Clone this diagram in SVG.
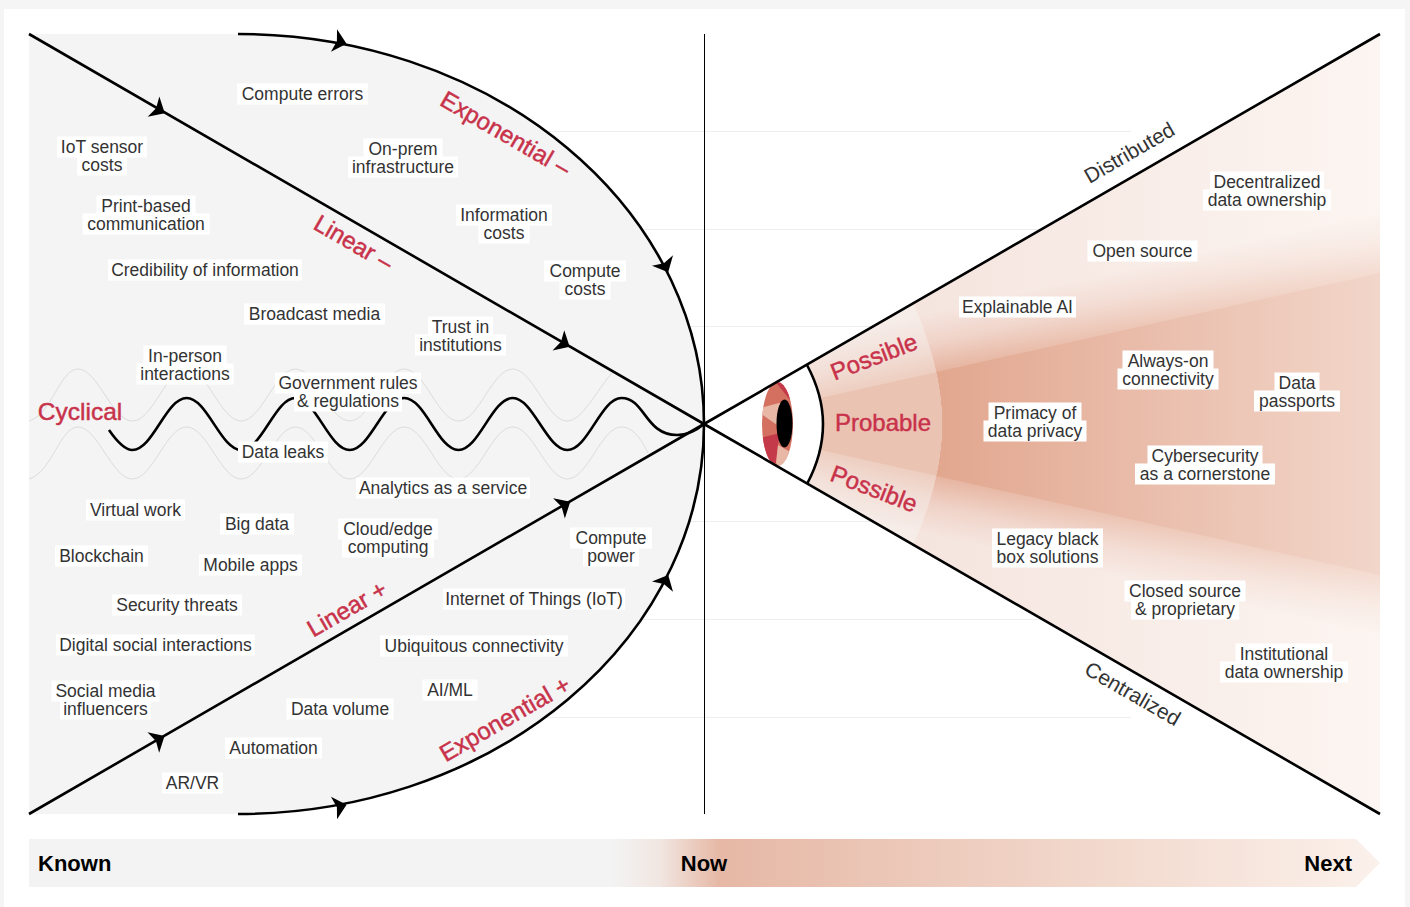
<svg xmlns="http://www.w3.org/2000/svg" width="1410" height="907" viewBox="0 0 1410 907">
<style>
text{font-family:"Liberation Sans",Arial,sans-serif}
.t text,text.t{font-size:17.5px;fill:#333;text-anchor:middle}
.t rect{fill:#fff;height:21px}
.r{font-size:24px;fill:#c8324a;text-anchor:middle;stroke:#c8324a;stroke-width:.45px}
.k{font-size:22px;fill:#000;font-weight:bold}
.s{font-size:21px;fill:#333;text-anchor:middle}
.g{fill:none;stroke:#dcdcdc;stroke-width:1}
.l{fill:none;stroke:#000;stroke-width:2.6}
.rule{stroke:#eee;stroke-width:1;fill:none}
</style>
<defs>
<linearGradient id="fanH" gradientUnits="userSpaceOnUse" x1="900" y1="0" x2="1380" y2="0"><stop offset="0" stop-color="#f5e4de"/><stop offset="1" stop-color="#fcf5f1"/></linearGradient>
<linearGradient id="wedgeH" gradientUnits="userSpaceOnUse" x1="940" y1="0" x2="1380" y2="0"><stop offset="0" stop-color="#e2a78f"/><stop offset="1" stop-color="#f2d6ca"/></linearGradient>
<linearGradient id="bar" gradientUnits="userSpaceOnUse" x1="29" y1="0" x2="1380" y2="0"><stop offset="0.431" stop-color="#f3f3f3"/><stop offset="0.467" stop-color="#f1e6e1"/><stop offset="0.511" stop-color="#e6b8a5"/><stop offset="1" stop-color="#fbf1eb"/></linearGradient>
<linearGradient id="upFade" gradientUnits="userSpaceOnUse" x1="1140" y1="326.500" x2="1127" y2="269"><stop offset="0" stop-color="#fff" stop-opacity=".8"/><stop offset=".5" stop-color="#fff" stop-opacity=".3"/><stop offset="1" stop-color="#fff" stop-opacity="0"/></linearGradient>
<linearGradient id="dnFade" gradientUnits="userSpaceOnUse" x1="1140" y1="521.500" x2="1127" y2="579"><stop offset="0" stop-color="#fff" stop-opacity=".8"/><stop offset=".5" stop-color="#fff" stop-opacity=".3"/><stop offset="1" stop-color="#fff" stop-opacity="0"/></linearGradient>
<mask id="fadeMask" maskUnits="userSpaceOnUse" x="700" y="0" width="700" height="848"><rect x="700" y="0" width="700" height="424" fill="url(#upFade)"/><rect x="700" y="424" width="700" height="424" fill="url(#dnFade)"/></mask>
<clipPath id="fan"><path d="M704 424L1380 34V814Z"/></clipPath>
<clipPath id="arcIn"><path d="M704 424L913 303C930 340 942 385 942 424C942 463 930 508 913 545Z"/></clipPath>
<clipPath id="iris" clip-path="url(#fan)"><ellipse cx="777.500" cy="424" rx="15.500" ry="42"/></clipPath>
<path id="ah" d="M13 0L0 -11.700L3 0L0 11.700Z" fill="#000"/>
</defs>
<rect width="1410" height="907" fill="#f5f5f5"/>
<rect x="4" y="9" width="1401" height="898" fill="#fff"/>
<g id="rules">
<path class="rule" d="M500 131.500H1131M500 229.500H1045M500 326.500H880M500 521.500H880M500 619.500H1045M500 717.500H1131"/>
</g>
<g id="left-field"><path d="M29 34H238A466 390 0 0 1 704 424A466 390 0 0 1 238 814H29Z" fill="#f4f4f4"/></g>
<path id="now-axis" d="M704.500 34V814" stroke="#000" stroke-width="1" fill="none"/>
<g id="future">
<path d="M704 424L1380 34V814Z" fill="url(#fanH)"/>
<path d="M704 424L1380 34V814Z" fill="url(#wedgeH)" mask="url(#fadeMask)"/>
<path d="M704 424L1380 273V575Z" fill="url(#wedgeH)"/>
<g clip-path="url(#arcIn)">
<rect x="700" y="290" width="250" height="270" fill="#f6ece8"/>
<rect x="700" y="290" width="250" height="270" fill="#ebc6b6" mask="url(#fadeMask)"/>
<path d="M704 424L960 367V481Z" fill="#eac3b3"/>
</g>
</g>
<g id="eye">
<path d="M704 424L807 365Q823 395 823 424Q823 454 807 484Z" fill="#fff"/>
<g clip-path="url(#iris)">
<rect x="755" y="375" width="45" height="100" fill="#d4705f"/>
<path d="M775 381L778 385L790 400L794 397L787 378Z" fill="#c43a4a"/>
<path d="M760 408L783 402L780 427L760 413Z" fill="#e8b7a5"/>
<path d="M760 438L780 433L778 445L776 463L758 462Z" fill="#c43a4a"/>
<path d="M778 445L792 453L782 470L776 463Z" fill="#e8b7a5"/>
</g>
<ellipse cx="784.500" cy="423.500" rx="8" ry="24" fill="#000"/>
<path class="l" d="M807 365Q823 395 823 424Q823 454 807 484"/>
</g>
<g id="waves">
<path class="g" d="M29 421C52 414 60 369 78 369C98 369 112 421 132.400 421C153 421 166 369 186.700 369C207 369 221 421 241 421C262 421 275 369 295.400 369C316 369 329 421 349.800 421C370 421 384 369 404.100 369C425 369 438 421 458.500 421C479 421 492 369 512.800 369C533 369 547 421 567.200 421C582 421 597 390 612 373"/>
<path class="g" d="M29 479C52 472 60 427 78 427C98 427 112 479 132.400 479C153 479 166 427 186.700 427C207 427 221 479 241 479C262 479 275 427 295.400 427C316 427 329 479 349.800 479C370 479 384 427 404.100 427C425 427 438 479 458.500 479C479 479 492 427 512.800 427C533 427 547 479 567.200 479C588 479 601 427 621.500 427C634 427 642 441 648 453"/>
</g>
<g id="connectors">
<path class="l" d="M29 34L704 424M29 814L704 424M704 424L1380 34M704 424L1380 814"/>
<path class="l" d="M238 34A466 390 0 0 1 704 424A466 390 0 0 1 238 814"/>
<path class="l" d="M109 430C118 443 125 450 132.400 450C153 450 166 398 186.700 398C207 398 221 450 241 450C262 450 275 398 295.400 398C316 398 329 450 349.800 450C370 450 384 398 404.100 398C425 398 438 450 458.500 450C479 450 492 398 512.800 398C533 398 547 450 567.200 450C588 450 601 398 621.500 398C645 398 645 435 677 435C688 435 697 430 704 424"/>
<use href="#ah" transform="translate(153.500 106.700) rotate(30)"/>
<use href="#ah" transform="translate(334 40.500) rotate(15)"/>
<use href="#ah" transform="translate(662.500 260.500) rotate(64)"/>
<use href="#ah" transform="translate(558.400 340.300) rotate(30)"/>
<use href="#ah" transform="translate(559 508.300) rotate(-30)"/>
<use href="#ah" transform="translate(662.500 586.700) rotate(-64)"/>
<use href="#ah" transform="translate(153.300 742.500) rotate(-30)"/>
<use href="#ah" transform="translate(334 808) rotate(-15)"/>
</g>
<g id="regime-labels">
<text class="r" x="80" y="420" style="font-size:24.500px">Cyclical</text>
<text class="r" transform="translate(505.500 134) rotate(30)" dy="8">Exponential –</text>
<text class="r" transform="translate(353.500 243) rotate(30)" dy="8">Linear –</text>
<text class="r" transform="translate(347 609) rotate(-30)" dy="8">Linear +</text>
<text class="r" transform="translate(505 719) rotate(-30)" dy="8">Exponential +</text>
<text class="r" transform="translate(874 357) rotate(-21)" dy="8">Possible</text>
<text class="r" x="883" y="431">Probable</text>
<text class="r" transform="translate(874 489) rotate(21)" dy="8">Possible</text>
<text class="s" transform="translate(1129 152) rotate(-30)" dy="8">Distributed</text>
<text class="s" transform="translate(1133 693) rotate(30)" dy="8">Centralized</text>
</g>
<g id="n-compute-errors" class="t" transform="translate(302.500 0)"><rect x="-65.500" y="83.500" width="131"/><text y="100">Compute errors</text></g>
<g id="n-iot-sensor-costs" class="t" transform="translate(102 0)"><rect x="-45" y="136.500" width="90"/><rect x="-25" y="154.500" width="50"/><text y="153">IoT sensor</text><text y="171">costs</text></g>
<g id="n-print-based" class="t" transform="translate(146 0)"><rect x="-49.500" y="195.500" width="99"/><rect x="-63.500" y="213.500" width="127"/><text y="212">Print-based</text><text y="230">communication</text></g>
<g id="n-credibility" class="t" transform="translate(205 0)"><rect x="-97" y="259.500" width="194"/><text y="276">Credibility of information</text></g>
<g id="n-broadcast" class="t" transform="translate(314.500 0)"><rect x="-70.500" y="303.500" width="141"/><text y="320">Broadcast media</text></g>
<g id="n-in-person" class="t" transform="translate(185 0)"><rect x="-41.500" y="345.500" width="83"/><rect x="-48.500" y="363.500" width="97"/><text y="362">In-person</text><text y="380">interactions</text></g>
<g id="n-government" class="t" transform="translate(348 0)"><rect x="-73" y="372.500" width="146"/><rect x="-54" y="390.500" width="108"/><text y="389">Government rules</text><text y="407">&amp; regulations</text></g>
<g id="n-trust" class="t" transform="translate(460.500 0)"><rect x="-32.500" y="316.500" width="65"/><rect x="-45.500" y="334.500" width="91"/><text y="333">Trust in</text><text y="351">institutions</text></g>
<g id="n-on-prem" class="t" transform="translate(403 0)"><rect x="-39.500" y="138.500" width="79"/><rect x="-55" y="156.500" width="110"/><text y="155">On-prem</text><text y="173">infrastructure</text></g>
<g id="n-information" class="t" transform="translate(504 0)"><rect x="-48" y="204.500" width="96"/><rect x="-25.500" y="222.500" width="51"/><text y="221">Information</text><text y="239">costs</text></g>
<g id="n-compute-costs" class="t" transform="translate(585 0)"><rect x="-41" y="260.500" width="82"/><rect x="-25.500" y="278.500" width="51"/><text y="277">Compute</text><text y="295">costs</text></g>
<g id="n-data-leaks" class="t" transform="translate(283 0)"><rect x="-45" y="441.500" width="90"/><text y="458">Data leaks</text></g>
<g id="n-analytics" class="t" transform="translate(443 0)"><rect x="-87" y="477.500" width="174"/><text y="494">Analytics as a service</text></g>
<g id="n-virtual-work" class="t" transform="translate(135.500 0)"><rect x="-49.500" y="499.500" width="99"/><text y="516">Virtual work</text></g>
<g id="n-big-data" class="t" transform="translate(257 0)"><rect x="-37" y="513.500" width="74"/><text y="530">Big data</text></g>
<g id="n-blockchain" class="t" transform="translate(101.500 0)"><rect x="-46.500" y="545.500" width="93"/><text y="562">Blockchain</text></g>
<g id="n-mobile-apps" class="t" transform="translate(250.500 0)"><rect x="-51.500" y="554.500" width="103"/><text y="571">Mobile apps</text></g>
<g id="n-cloud-edge" class="t" transform="translate(388 0)"><rect x="-50" y="518.500" width="100"/><rect x="-46" y="536.500" width="92"/><text y="535">Cloud/edge</text><text y="553">computing</text></g>
<g id="n-compute-power" class="t" transform="translate(611 0)"><rect x="-41" y="527.500" width="82"/><rect x="-28" y="545.500" width="56"/><text y="544">Compute</text><text y="562">power</text></g>
<g id="n-security" class="t" transform="translate(177 0)"><rect x="-65" y="594.500" width="130"/><text y="611">Security threats</text></g>
<g id="n-iot" class="t" transform="translate(534 0)"><rect x="-91" y="588.500" width="182"/><text y="605">Internet of Things (IoT)</text></g>
<g id="n-digital-social" class="t" transform="translate(155.500 0)"><rect x="-99.500" y="634.500" width="199"/><text y="651">Digital social interactions</text></g>
<g id="n-ubiquitous" class="t" transform="translate(474 0)"><rect x="-94" y="635.500" width="188"/><text y="652">Ubiquitous connectivity</text></g>
<g id="n-social-media" class="t" transform="translate(105.500 0)"><rect x="-54" y="680.500" width="108"/><rect x="-45.500" y="698.500" width="91"/><text y="697">Social media</text><text y="715">influencers</text></g>
<g id="n-ai-ml" class="t" transform="translate(450 0)"><rect x="-27.500" y="679.500" width="55"/><text y="696">AI/ML</text></g>
<g id="n-data-volume" class="t" transform="translate(340 0)"><rect x="-53.500" y="698.500" width="107"/><text y="715">Data volume</text></g>
<g id="n-automation" class="t" transform="translate(273.500 0)"><rect x="-48.500" y="737.500" width="97"/><text y="754">Automation</text></g>
<g id="n-ar-vr" class="t" transform="translate(192.500 0)"><rect x="-30.500" y="772.500" width="61"/><text y="789">AR/VR</text></g>
<g id="n-decentralized" class="t" transform="translate(1267 0)"><rect x="-57" y="171.500" width="114"/><rect x="-64" y="189.500" width="128"/><text y="188">Decentralized</text><text y="206">data ownership</text></g>
<g id="n-open-source" class="t" transform="translate(1142.500 0)"><rect x="-55" y="240.500" width="110"/><text y="257">Open source</text></g>
<g id="n-explainable" class="t" transform="translate(1017.500 0)"><rect x="-58.500" y="296.500" width="117"/><text y="313">Explainable AI</text></g>
<g id="n-always-on" class="t" transform="translate(1168 0)"><rect x="-45.500" y="350.500" width="91"/><rect x="-50.500" y="368.500" width="101"/><text y="367">Always-on</text><text y="385">connectivity</text></g>
<g id="n-passports" class="t" transform="translate(1297 0)"><rect x="-22.500" y="372.500" width="45"/><rect x="-43" y="390.500" width="86"/><text y="389">Data</text><text y="407">passports</text></g>
<g id="n-privacy" class="t" transform="translate(1035 0)"><rect x="-46.500" y="402.500" width="93"/><rect x="-51.500" y="420.500" width="103"/><text y="419">Primacy of</text><text y="437">data privacy</text></g>
<g id="n-cybersecurity" class="t" transform="translate(1205 0)"><rect x="-57.500" y="445.500" width="115"/><rect x="-70" y="463.500" width="140"/><text y="462">Cybersecurity</text><text y="480">as a cornerstone</text></g>
<g id="n-legacy" class="t" transform="translate(1047.500 0)"><rect x="-55.500" y="528.500" width="111"/><rect x="-55.500" y="546.500" width="111"/><text y="545">Legacy black</text><text y="563">box solutions</text></g>
<g id="n-closed" class="t" transform="translate(1185 0)"><rect x="-60.500" y="580.500" width="121"/><rect x="-54" y="598.500" width="108"/><text y="597">Closed source</text><text y="615">&amp; proprietary</text></g>
<g id="n-institutional" class="t" transform="translate(1284 0)"><rect x="-48.500" y="643.500" width="97"/><rect x="-64" y="661.500" width="128"/><text y="660">Institutional</text><text y="678">data ownership</text></g>
<g id="timeline">
<path d="M29 839H1356L1380 863L1356 887H29Z" fill="url(#bar)"/>
<text class="k" x="38" y="871">Known</text>
<text class="k" x="704" y="871" text-anchor="middle">Now</text>
<text class="k" x="1352" y="871" text-anchor="end">Next</text>
</g>
</svg>
